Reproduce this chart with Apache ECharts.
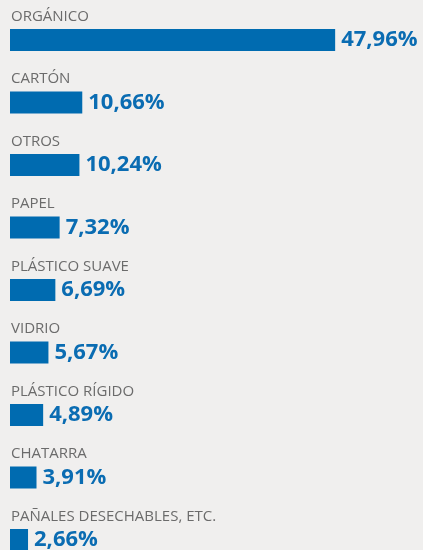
<!DOCTYPE html>
<html>
<head>
    <meta charset="utf-8">
    <script src="https://cdn.jsdelivr.net/npm/echarts@6/dist/echarts.min.js"></script>
    <style>
        html, body { margin: 0; padding: 0; background: #f0efee; }
    </style>
</head>
<body>
    <div id="main" style="width: 423px; height: 550px"></div>
    <script type="text/javascript">
        var categorias = ['ORGÁNICO', 'CARTÓN', 'OTROS', 'PAPEL', 'PLÁSTICO SUAVE',
            'VIDRIO', 'PLÁSTICO RÍGIDO', 'CHATARRA', 'PAÑALES DESECHABLES, ETC.'];
        var porcentajes = [47.96, 10.66, 10.24, 7.32, 6.69, 5.67, 4.89, 3.91, 2.66];

        window.onload = function () {
            var myChart = echarts.init(document.getElementById('main'));
            var option = {
                backgroundColor: '#f0efee',
                animation: false,
                grid: {
                    left: 10,
                    top: 8.75,
                    width: 400,
                    height: 562.5,
                    outerBoundsMode: 'none',
                    containLabel: false
                },
                xAxis: {
                    type: 'value',
                    min: 0,
                    max: 59,
                    show: false
                },
                yAxis: {
                    type: 'category',
                    inverse: true,
                    data: categorias,
                    axisLine: { show: false },
                    axisTick: { show: false },
                    axisLabel: { show: false }
                },
                series: [{
                    // barras con el valor a la derecha
                    type: 'bar',
                    data: porcentajes,
                    barWidth: 22,
                    itemStyle: { color: '#006bb0' },
                    label: {
                        show: true,
                        position: 'right',
                        distance: 6,
                        color: '#0a6cb2',
                        fontFamily: 'Open Sans',
                        fontWeight: 'bold',
                        fontSize: 22,
                        formatter: function (p) {
                            return p.value.toFixed(2).replace('.', ',') + '%';
                        }
                    }
                }, {
                    // solo el nombre encima de cada barra
                    type: 'bar',
                    data: porcentajes,
                    barWidth: 22,
                    barGap: '-100%',
                    silent: true,
                    itemStyle: { color: 'rgba(0,0,0,0)' },
                    label: {
                        show: true,
                        position: [1, -20],
                        color: '#6b6b6b',
                        fontFamily: 'Open Sans',
                        fontSize: 15,
                        formatter: function (p) {
                            return p.name;
                        }
                    }
                }]
            };
            myChart.setOption(option);
        }
    </script>
</body>
</html>
